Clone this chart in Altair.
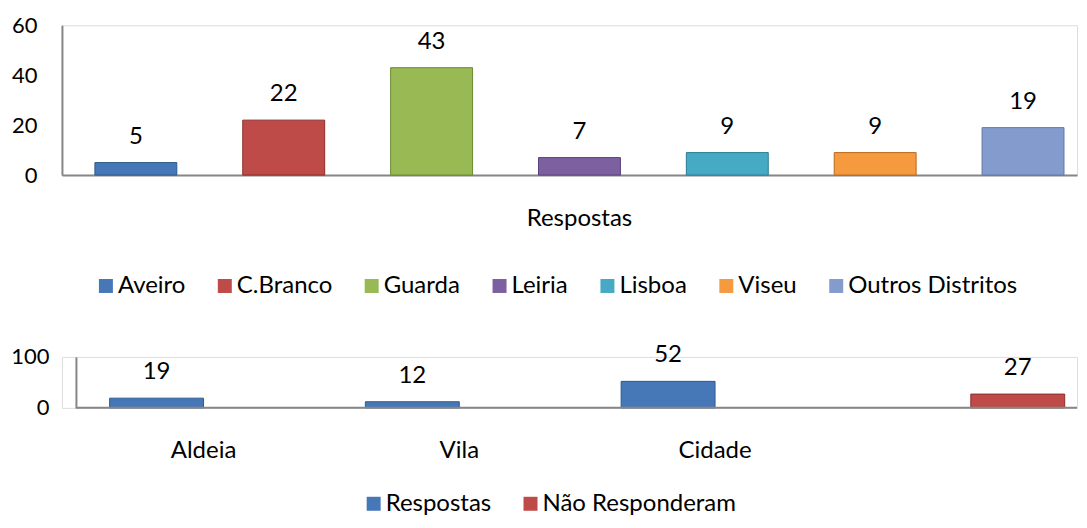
import altair as alt
import pandas as pd

FONT = "Lato"

# ---- top panel data ----
districts = ["Aveiro", "C.Branco", "Guarda", "Leiria", "Lisboa", "Viseu", "Outros Distritos"]
district_values = [5, 22, 43, 7, 9, 9, 19]
district_colors = ["#4678B8", "#BE4B48", "#98B954", "#7D60A0", "#46AAC5", "#F59A3F", "#849CCD"]
district_strokes = ["#2C5A8E", "#8C2D2A", "#6C8A33", "#58407A", "#2B7D93", "#B8691E", "#5E77A6"]
top_axis_label = ["Respostas"]
top_ticks = [0, 20, 40, 60]

# ---- bottom panel data ----
place_categories = ["Aldeia", "Vila", "Cidade", " "]
series_names = ["Respostas", "Não Responderam"]
respostas_values = [19, 12, 52, None]
nao_responderam_values = [None, None, None, 27]
series_colors = ["#4678B8", "#BE4B48"]
series_strokes = ["#2C5A8E", "#8C2D2A"]
bottom_ticks = [0, 100]

AXIS_COLOR = "#868686"
AXIS_FS = 22
TEXT_FS = 24
W = 1016

legend_common = dict(
    orient="none", direction="horizontal", title=None, symbolType="square", symbolSize=196,
    labelFontSize=TEXT_FS, labelFont=FONT, labelColor="#000000", labelLimit=0,
    columnPadding=27, labelOffset=0, symbolStrokeWidth=0,
)

# ---------------- top chart ----------------
df_top = pd.DataFrame({"Distrito": districts, "Valor": district_values})

x_top = alt.X(
    "Distrito:N",
    sort=districts,
    scale=alt.Scale(domain=districts, paddingInner=0.44595, paddingOuter=0.1554, align=0.717),
    axis=alt.Axis(labels=False, ticks=False, title=None, domainColor=AXIS_COLOR, domainWidth=2),
)
y_top = alt.Y(
    "Valor:Q",
    scale=alt.Scale(domain=[0, 60], nice=False),
    axis=alt.Axis(values=top_ticks, ticks=False, grid=False, title=None, labelPadding=25,
                  labelFontSize=AXIS_FS, labelFont=FONT, labelColor="#000000",
                  domainColor=AXIS_COLOR, domainWidth=2),
)

bars_top = alt.Chart(df_top).mark_bar(strokeWidth=1).encode(
    x=x_top,
    y=y_top,
    color=alt.Color(
        "Distrito:N",
        sort=districts,
        scale=alt.Scale(domain=districts, range=district_colors),
        legend=alt.Legend(legendX=32, legendY=249, **legend_common),
    ),
    stroke=alt.Stroke("Distrito:N", scale=alt.Scale(domain=districts, range=district_strokes), legend=None),
)
text_top = alt.Chart(df_top).mark_text(dy=-26, baseline="middle", fontSize=TEXT_FS, font=FONT, color="#000000").encode(
    x=alt.X("Distrito:N", sort=districts),
    y="Valor:Q",
    text="Valor:Q",
)
label_top = alt.Chart(pd.DataFrame({"t": top_axis_label})).mark_text(
    baseline="middle", align="center", fontSize=TEXT_FS, font=FONT, color="#000000"
).encode(x=alt.value(518), y=alt.value(194), text="t:N")

top = alt.layer(bars_top, text_top, label_top).properties(width=W, height=150)

# ---------------- bottom chart ----------------
rows = []
for cat, r, n in zip(place_categories, respostas_values, nao_responderam_values):
    if r is not None:
        rows.append({"Categoria": cat, "Serie": series_names[0], "Valor": r})
    if n is not None:
        rows.append({"Categoria": cat, "Serie": series_names[1], "Valor": n})
df_bot = pd.DataFrame(rows)

x_bot = alt.X(
    "Categoria:N",
    sort=place_categories,
    scale=alt.Scale(domain=place_categories, paddingInner=0.2656, paddingOuter=0.1172, align=0.795),
    axis=alt.Axis(title=None, ticks=False, domain=False, labelPadding=31, labelFontSize=TEXT_FS,
                  labelFont=FONT, labelColor="#000000", labelAngle=0),
)
xo_bot = alt.XOffset("Serie:N", sort=series_names,
                     scale=alt.Scale(domain=series_names, paddingInner=0, paddingOuter=0))
y_bot = alt.Y(
    "Valor:Q",
    scale=alt.Scale(domain=[0, 100], nice=False),
    axis=alt.Axis(values=bottom_ticks, ticks=False, grid=False, title=None, labelPadding=27,
                  offset=-14, labelFontSize=AXIS_FS, labelFont=FONT, labelColor="#000000",
                  domainColor=AXIS_COLOR, domainWidth=2),
)

bars_bot = alt.Chart(df_bot).mark_bar(strokeWidth=1).encode(
    x=x_bot,
    xOffset=xo_bot,
    y=y_bot,
    color=alt.Color(
        "Serie:N",
        sort=series_names,
        scale=alt.Scale(domain=series_names, range=series_colors),
        legend=alt.Legend(legendX=300, legendY=135, **legend_common),
    ),
    stroke=alt.Stroke("Serie:N", scale=alt.Scale(domain=series_names, range=series_strokes), legend=None),
)
text_bot = alt.Chart(df_bot).mark_text(dy=-26, baseline="middle", fontSize=TEXT_FS, font=FONT, color="#000000").encode(
    x=alt.X("Categoria:N", sort=place_categories),
    xOffset=alt.XOffset("Serie:N", sort=series_names),
    y="Valor:Q",
    text="Valor:Q",
)
axis_line_bot = alt.Chart(pd.DataFrame({"k": [0]})).mark_rule(color=AXIS_COLOR, strokeWidth=2).encode(
    x=alt.value(14), x2=alt.value(W), y=alt.value(51)
)

bottom = alt.layer(bars_bot, text_bot, axis_line_bot).properties(width=W, height=51)

chart = (
    alt.vconcat(top, bottom, spacing=43)
    .resolve_scale(color="independent", stroke="independent", x="independent", y="independent",
                   xOffset="independent")
    .properties(padding={"left": 2, "top": 5, "right": 0, "bottom": 0})
    .configure_view(stroke=None)
    .configure(font=FONT)
)

chart.save("out.html", embed_options={"renderer": "svg", "actions": False})
